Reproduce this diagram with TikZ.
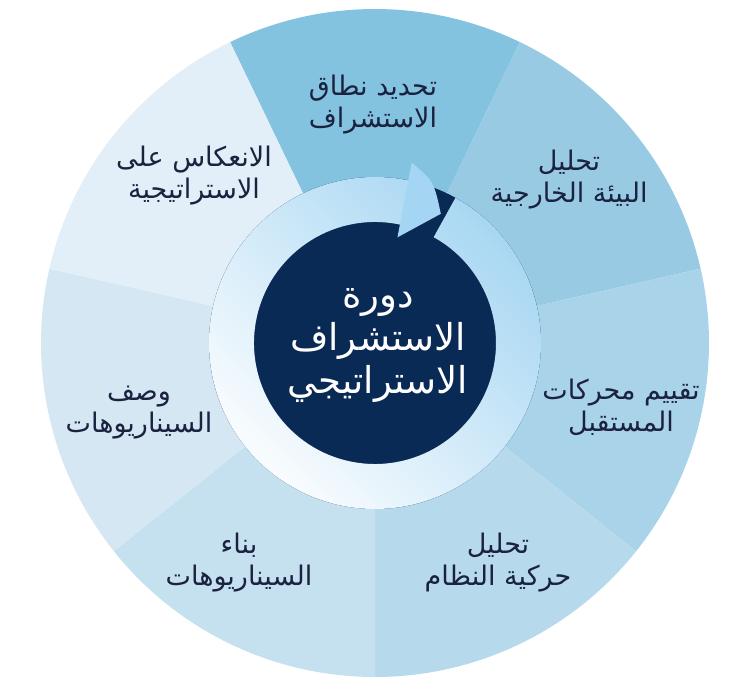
\documentclass[tikz,border=0pt]{standalone}
\usepackage{fontspec}
\newfontfamily\arabicfont[Script=Arabic]{DejaVu Sans}
\TeXXeTstate=1
\definecolor{stepA}{HTML}{84C3E0}
\definecolor{stepB}{HTML}{98CBE3}
\definecolor{stepC}{HTML}{A9D3E8}
\definecolor{stepD}{HTML}{B6DAEC}
\definecolor{stepE}{HTML}{C5E0EF}
\definecolor{stepF}{HTML}{D4E7F3}
\definecolor{stepG}{HTML}{E2EFF8}
\definecolor{navy}{HTML}{0A2A56}
\definecolor{ink}{HTML}{1B2240}
\definecolor{ringhi}{HTML}{A4D5F2}

\begin{document}
\begin{tikzpicture}[
  x=1pt,y=1pt,
  lab/.style={text=ink,font=\arabicfont\fontsize{27}{32}\selectfont,align=center,inner sep=0pt},
  hub/.style={text=white,font=\arabicfont\fontsize{37}{43}\selectfont,align=center,inner sep=0pt},
]
\useasboundingbox (-375,-344) rectangle (373,343);
% the seven steps of the wheel
\fill[stepA] (0,0) -- (64.29:334) arc[start angle=64.29,end angle=115.71,radius=334] -- cycle;
\fill[stepB] (0,0) -- (12.86:334) arc[start angle=12.86,end angle=64.29,radius=334] -- cycle;
\fill[stepC] (0,0) -- (-38.57:334) arc[start angle=-38.57,end angle=12.86,radius=334] -- cycle;
\fill[stepD] (0,0) -- (-90:334) arc[start angle=-90,end angle=-38.57,radius=334] -- cycle;
\fill[stepE] (0,0) -- (-141.43:334) arc[start angle=-141.43,end angle=-90,radius=334] -- cycle;
\fill[stepF] (0,0) -- (167.14:334) arc[start angle=167.14,end angle=218.57,radius=334] -- cycle;
\fill[stepG] (0,0) -- (115.71:334) arc[start angle=115.71,end angle=167.14,radius=334] -- cycle;
% ring with its arrow
\fill[navy] (0,0) circle (166);
\shade[top color=ringhi,bottom color=white,shading angle=-45]
  (61:166) arc[start angle=61,end angle=-283,radius=166]
  -- (-283:121) arc[start angle=-283,end angle=61,radius=121] -- cycle;
\fill[ringhi] (78.5:184) .. controls (70:172) .. (63:145) -- (78:108) -- cycle;
% texts
\node[hub] (cycle) at (3,-3) {\beginR دورة\endR\\\beginR الاستشراف\endR\\\beginR الاستراتيجي\endR};
\node[lab] (scope) at (-2,238) {\beginR تحديد نطاق\endR\\\beginR الاستشراف\endR};
\node[lab] (outside) at (194,163) {\beginR تحليل\endR\\\beginR البيئة الخارجية\endR};
\node[lab] (drivers) at (246,-64) {\beginR تقييم محركات\endR\\\beginR المستقبل\endR};
\node[lab] (dynamics) at (123,-220) {\beginR تحليل\endR\\\beginR حركية النظام\endR};
\node[lab] (build) at (-136,-220) {\beginR بناء\endR\\\beginR السيناريوهات\endR};
\node[lab] (describe) at (-236,-70) {\beginR وصف\endR\\\beginR السيناريوهات\endR};
\node[lab] (reflect) at (-181,167) {\beginR الانعكاس على\endR\\\beginR الاستراتيجية\endR};
\end{tikzpicture}
\end{document}
